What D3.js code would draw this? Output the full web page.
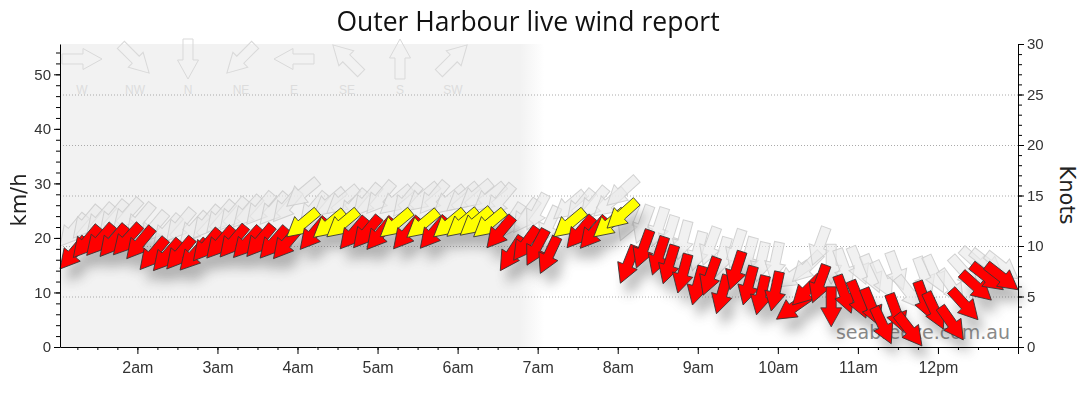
<!DOCTYPE html>
<html>
<head>
<meta charset="utf-8">
<script src="https://cdn.jsdelivr.net/npm/d3@7"></script>
<style>
  body { margin: 0; background: #fff; }
</style>
</head>
<body>
<script>
var w = 1080;
var h = 414;
var margin = { left: 60, right: 62, top: 44, bottom: 67 };

// readings, 10 min apart overnight, irregular later on
var times = ["1:02","1:12","1:22","1:32","1:42","1:52","2:02","2:12","2:22","2:32",
             "2:42","2:52","3:02","3:12","3:22","3:32","3:42","3:52","4:02","4:12",
             "4:22","4:32","4:42","4:52","5:02","5:12","5:22","5:32","5:42","5:52",
             "6:02","6:12","6:22","6:32","6:42","6:52","7:02","7:12","7:22","7:32",
             "7:42","7:52","8:02","8:14","8:26","8:34","8:45","8:56","9:04","9:14",
             "9:24","9:34","9:44","9:55","9:59","10:11","10:26","10:40","10:55","11:06",
             "11:16","11:25","11:34","11:48","11:55","12:04","12:19","12:30","12:40","12:49",
             "13:00"];

// average wind, km/h
var speed = [14.3,16.4,16.8,16.6,16.9,16.2,14.2,14.0,14.3,14.1,
             15.8,16.3,16.5,16.4,16.6,16.3,16.2,20.2,17.9,20.1,
             20.2,18.0,18.2,17.9,20.2,18.0,20.1,18.1,20.2,20.3,
             20.5,20.2,18.2,14.0,15.9,15.0,13.5,20.2,18.2,18.1,
             20.2,21.8,11.7,14.5,13.2,11.6,9.9,7.7,9.5,6.1,
             10.5,7.7,5.9,6.6,5.1,7.7,8.1,3.7,6.2,5.3,
             3.9,0.6,2.8,0.2,5.1,3.3,1.3,5.0,8.6,10.5,
             10.5];

// gusts, km/h
var gust = [18.5,20.0,20.5,21.0,21.5,20.5,19.0,18.5,19.5,19.0,
            20.0,21.0,21.5,22.0,22.5,22.5,23.0,25.8,22.5,24.0,
            24.5,23.0,24.0,24.5,24.5,24.0,25.0,24.5,24.5,25.0,
            25.5,25.0,24.0,20.0,21.0,21.5,19.0,23.5,23.0,23.5,
            24.0,26.0,19.5,19.0,18.5,17.0,16.0,14.0,15.0,13.0,
            14.5,13.0,12.0,12.0,11.0,12.0,15.0,11.5,11.0,11.5,
            10.0,9.0,10.5,7.0,9.5,10.0,8.0,11.0,13.0,13.0,
            12.5];

// direction the wind comes from, degrees
var dirFrom = [40,40,41,40,42,40,40,41,40,42,
               40,41,40,42,40,41,40,50,40,50,
               50,40,40,40,50,40,50,40,50,50,
               50,50,40,33,36,28,25,50,40,40,
               50,48,22,20,18,17,15,15,20,16,
               18,15,13,12,55,45,20,0,340,338,
               338,335,340,322,340,335,325,318,312,308,
               308];

var dirNames = ["W", "NW", "N", "NE", "E", "SE", "S", "SW"];
var dirAngles = [270, 315, 0, 45, 90, 135, 180, 225];

var kmhTicks = [0, 10, 20, 30, 40, 50];
var knotTicks = [0, 5, 10, 15, 20, 25, 30];
var gridKnots = [5, 10, 15, 20, 25];
var hourTicks = [2, 3, 4, 5, 6, 7, 8, 9, 10, 11, 12, 13];

var maxKnots = 30;
var yellowFrom = 19.5; // km/h

function toDate(s) {
  var p = s.split(":");
  return new Date(2024, 0, 1, +p[0], +p[1]);
}

var x = d3.scaleTime()
          .domain([toDate("1:02"), toDate("13:00")])
          .range([margin.left, w - margin.right]);

var yKn = d3.scaleLinear()
            .domain([0, maxKnots])
            .range([h - margin.bottom, margin.top]);

var yKmh = d3.scaleLinear()
             .domain([0, maxKnots * 1.852])
             .range([h - margin.bottom, margin.top]);

// arrow with its tip at the origin, pointing down
var arrowPath = "M0,0L10.5,-19L5,-19L5,-40L-5,-40L-5,-19L-10.5,-19Z";

var svg = d3.select("body")
            .append("svg")
            .attr("width", w)
            .attr("height", h);

var defs = svg.append("defs");
defs.append("filter")
    .attr("id", "shadow")
    .attr("x", "-50%").attr("y", "-50%")
    .attr("width", "200%").attr("height", "200%")
    .append("feGaussianBlur")
    .attr("stdDeviation", 6);

var grad = defs.append("linearGradient")
               .attr("id", "night")
               .attr("x1", "0%").attr("x2", "100%")
               .attr("y1", "0%").attr("y2", "0%");
grad.append("stop").attr("offset", "95%").attr("stop-color", "#f2f2f2");
grad.append("stop").attr("offset", "100%").attr("stop-color", "#ffffff");

// night shading until about sunrise
svg.append("rect")
   .attr("x", x(toDate("1:02")))
   .attr("y", margin.top)
   .attr("width", x(toDate("7:05")) - x(toDate("1:02")))
   .attr("height", yKn(0) - margin.top)
   .attr("fill", "url(#night)");

// dotted grid at knot steps
svg.selectAll("line.grid")
   .data(gridKnots)
   .enter()
   .append("line")
   .attr("class", "grid")
   .attr("x1", margin.left)
   .attr("x2", w - margin.right)
   .attr("y1", function(d) { return yKn(d) + 0.5; })
   .attr("y2", function(d) { return yKn(d) + 0.5; })
   .attr("stroke", "#aaa")
   .attr("stroke-dasharray", "1,2");

// direction legend
var legend = svg.append("g");
legend.selectAll("path")
      .data(dirAngles)
      .enter()
      .append("path")
      .attr("d", arrowPath)
      .attr("transform", function(d, i) {
        return "translate(" + (82 + i * 53) + ",59) rotate(" + d + ") translate(0,20)";
      })
      .attr("fill", "none")
      .attr("stroke", "#d9d9d9");
legend.selectAll("text")
      .data(dirNames)
      .enter()
      .append("text")
      .text(function(d) { return d; })
      .attr("x", function(d, i) { return 82 + i * 53; })
      .attr("y", 94)
      .attr("text-anchor", "middle")
      .attr("font-family", "Liberation Sans, Arial, sans-serif")
      .attr("font-size", "12px")
      .attr("fill", "#dcdcdc");

svg.append("text")
   .text("seabreeze.com.au")
   .attr("x", 1010)
   .attr("y", 339)
   .attr("text-anchor", "end")
   .attr("font-family", "DejaVu Sans, Verdana, sans-serif")
   .attr("font-size", "19px")
   .attr("fill", "#8a8a8a");

var pts = times.map(function(t, i) {
  return { t: toDate(t), v: speed[i], g: gust[i], d: dirFrom[i] };
});

function place(val) {
  return function(p) {
    return "translate(" + x(p.t) + "," + yKmh(p[val]) + ") rotate(" + p.d + ")";
  };
}

// gust arrows
svg.append("g")
   .selectAll("path")
   .data(pts)
   .enter()
   .append("path")
   .attr("d", arrowPath)
   .attr("transform", place("g"))
   .attr("fill", "#e9e9e9")
   .attr("fill-opacity", 0.65)
   .attr("stroke", "#cdcdcd")
   .attr("stroke-opacity", 0.9);

// soft shadows under the average arrows
svg.append("g")
   .attr("filter", "url(#shadow)")
   .attr("opacity", 0.4)
   .selectAll("path")
   .data(pts)
   .enter()
   .append("path")
   .attr("d", arrowPath)
   .attr("transform", function(p) {
     return "translate(" + (x(p.t) + 6) + "," + (yKmh(p.v) + 13) + ") rotate(" + p.d + ")";
   })
   .attr("fill", "#555");

// average wind arrows
svg.append("g")
   .selectAll("path")
   .data(pts)
   .enter()
   .append("path")
   .attr("d", arrowPath)
   .attr("transform", place("v"))
   .attr("fill", function(p) { return p.v >= yellowFrom ? "#ffff00" : "#ff0000"; })
   .attr("stroke", "#333")
   .attr("stroke-width", 0.8);

// axes
function styleAxis(g, size) {
  g.select(".domain").attr("stroke", "#000");
  g.selectAll(".tick line").attr("stroke", "#000");
  g.selectAll("text")
   .attr("font-family", "Liberation Sans, Arial, sans-serif")
   .attr("font-size", size)
   .attr("fill", "#333");
}

var base = h - margin.bottom;

var minorMin = d3.timeMinute.every(15).range(toDate("1:02"), toDate("13:01"));
svg.append("g")
   .attr("transform", "translate(0," + base + ")")
   .call(d3.axisBottom(x).tickValues(minorMin).tickSize(3).tickFormat(""))
   .call(function(g) { g.select(".domain").remove(); g.selectAll("line").attr("stroke", "#000"); });

svg.append("g")
   .attr("transform", "translate(0," + base + ")")
   .call(d3.axisBottom(x)
           .tickValues(hourTicks.map(function(hr) { return new Date(2024, 0, 1, hr, 0); }))
           .tickSize(7)
           .tickSizeOuter(0)
           .tickPadding(8)
           .tickFormat(function(d) {
             return d.getHours() === 13 ? "" : d3.timeFormat("%-I%p")(d).toLowerCase();
           }))
   .call(styleAxis, "16px");

svg.append("g")
   .attr("transform", "translate(" + margin.left + ",0)")
   .call(d3.axisLeft(yKmh).tickValues(d3.range(0, 56, 2)).tickSize(4).tickFormat(""))
   .call(function(g) { g.select(".domain").remove(); g.selectAll("line").attr("stroke", "#000"); });

svg.append("g")
   .attr("transform", "translate(" + margin.left + ",0)")
   .call(d3.axisLeft(yKmh).tickValues(kmhTicks).tickSize(6).tickSizeOuter(0).tickPadding(3))
   .call(styleAxis, "15px");

svg.append("g")
   .attr("transform", "translate(" + (w - margin.right) + ",0)")
   .call(d3.axisRight(yKn).tickValues(d3.range(0, 31, 1)).tickSize(4).tickFormat(""))
   .call(function(g) { g.select(".domain").remove(); g.selectAll("line").attr("stroke", "#000"); });

svg.append("g")
   .attr("transform", "translate(" + (w - margin.right) + ",0)")
   .call(d3.axisRight(yKn).tickValues(knotTicks).tickSize(6).tickSizeOuter(0).tickPadding(3))
   .call(styleAxis, "15px");

// titles
svg.append("text")
   .text("Outer Harbour live wind report")
   .attr("x", 528)
   .attr("y", 31)
   .attr("text-anchor", "middle")
   .attr("font-family", "Open Sans, sans-serif")
   .attr("font-size", "26.5px")
   .attr("fill", "#111");

svg.append("text")
   .text("km/h")
   .attr("transform", "translate(26," + 200 + ") rotate(-90)")
   .attr("text-anchor", "middle")
   .attr("font-family", "DejaVu Sans, sans-serif")
   .attr("font-size", "21px")
   .attr("fill", "#222");

svg.append("text")
   .text("Knots")
   .attr("transform", "translate(1060," + 195 + ") rotate(90)")
   .attr("text-anchor", "middle")
   .attr("font-family", "DejaVu Sans, sans-serif")
   .attr("font-size", "21px")
   .attr("fill", "#222");
</script>
</body>
</html>
